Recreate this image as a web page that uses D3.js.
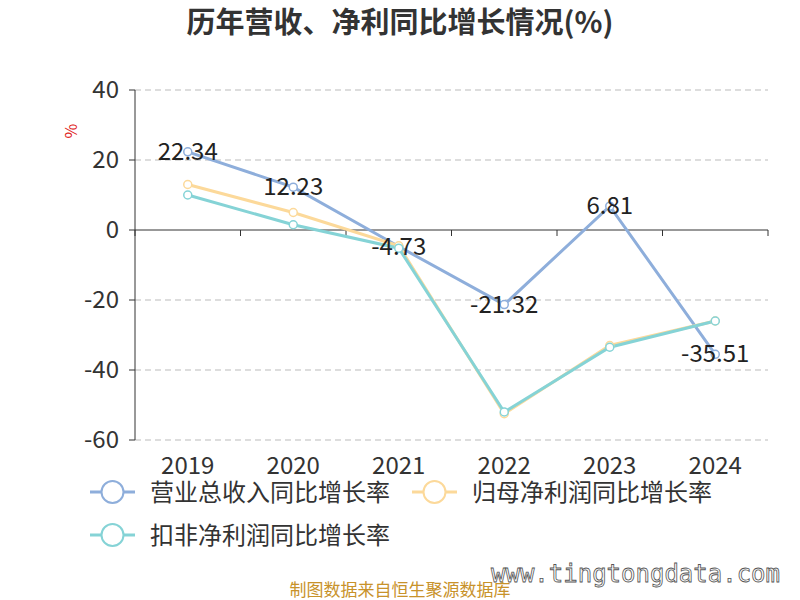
<!DOCTYPE html>
<html><head><meta charset="utf-8">
<script src="https://cdn.jsdelivr.net/npm/d3@7"></script>
<style>body{margin:0;background:#fff}</style></head>
<body><svg id="c" width="800" height="600"></svg>
<script>
const years = ["2019","2020","2021","2022","2023","2024"];
const revenue = [22.34, 12.23, -4.73, -21.32, 6.81, -35.51];
const netProfit = [13.0, 5.0, -4.5, -52.5, -33.0, -26.0];
const deductNet = [10.0, 1.5, -5.2, -52.0, -33.5, -26.0];
const yTicks = [40, 20, 0, -20, -40, -60];
const seriesNames = ["营业总收入同比增长率","归母净利润同比增长率","扣非净利润同比增长率"];
const colors = ["#8eaedb","#fcd99a","#85d3d6"];
const F = "'Noto Sans CJK SC','Noto Sans',sans-serif";
const svg = d3.select("#c");
const x = d3.scaleBand().domain(years).range([135, 768]);
const y = d3.scaleLinear().domain([-60, 40]).range([440, 90]);
svg.append("text").attr("x",400).attr("y",33).attr("text-anchor","middle").attr("font-family",F)
  .attr("font-size",29).attr("font-weight","bold").attr("fill","#333").text("历年营收、净利同比增长情况(%)");
svg.append("text").attr("transform","translate(77,131) rotate(-90)").attr("text-anchor","middle")
  .attr("font-family",F).attr("font-size",16).attr("fill","#e02020").text("%");
yTicks.forEach(t=>{
  if(t!==0) svg.append("line").attr("x1",135).attr("x2",768).attr("y1",y(t)).attr("y2",y(t))
    .attr("stroke","#bbb").attr("stroke-dasharray","6,4");
  svg.append("line").attr("x1",129).attr("x2",135).attr("y1",y(t)).attr("y2",y(t)).attr("stroke","#333");
  svg.append("text").attr("x",119).attr("y",y(t)+8).attr("text-anchor","end").attr("font-family",F)
    .attr("font-size",24).attr("fill","#333").text(t);
});
svg.append("line").attr("x1",135).attr("x2",135).attr("y1",90).attr("y2",440).attr("stroke","#333");
svg.append("line").attr("x1",135).attr("x2",768).attr("y1",y(0)).attr("y2",y(0)).attr("stroke","#333");
years.concat(["end"]).forEach((d,i)=>{
  const xx = 135 + i*x.bandwidth();
  svg.append("line").attr("x1",xx).attr("x2",xx).attr("y1",y(0)).attr("y2",y(0)+6).attr("stroke","#333");
});
years.forEach(d=>svg.append("text").attr("x",x(d)+x.bandwidth()/2).attr("y",474).attr("text-anchor","middle")
  .attr("font-family",F).attr("font-size",24).attr("fill","#333").text(d));
const cx = d=>x(d)+x.bandwidth()/2;
[revenue, netProfit, deductNet].forEach((s,k)=>{
  svg.append("path").datum(s).attr("fill","none").attr("stroke",colors[k]).attr("stroke-width",3)
    .attr("d",d3.line().x((v,i)=>cx(years[i])).y(v=>y(v)));
});
[revenue, netProfit, deductNet].forEach((s,k)=>{
  s.forEach((v,i)=>svg.append("circle").attr("cx",cx(years[i])).attr("cy",y(v)).attr("r",4)
    .attr("fill","#fff").attr("stroke",colors[k]).attr("stroke-width",1.5));
});
revenue.forEach((v,i)=>svg.append("text").attr("x",cx(years[i])).attr("y",y(v)+8).attr("text-anchor","middle")
  .attr("font-family",F).attr("font-size",24).attr("fill","#222").text(v.toFixed(2)));
const leg = [[90,492],[412,492],[90,535]];
seriesNames.forEach((n,k)=>{
  const [lx,ly]=leg[k];
  svg.append("line").attr("x1",lx).attr("x2",lx+45).attr("y1",ly).attr("y2",ly).attr("stroke",colors[k]).attr("stroke-width",3);
  svg.append("circle").attr("cx",lx+22.5).attr("cy",ly).attr("r",11).attr("fill","#fff").attr("stroke",colors[k]).attr("stroke-width",2);
  svg.append("text").attr("x",lx+60).attr("y",ly+9).attr("font-family",F).attr("font-size",24).attr("fill","#333").text(n);
});
svg.append("text").attr("x",780).attr("y",582).attr("text-anchor","end").attr("font-family","'DejaVu Sans Mono',monospace")
  .attr("font-size",24).attr("fill","none").attr("stroke","#555").attr("stroke-width",0.8).text("www.tingtongdata.com");
svg.append("text").attr("x",400).attr("y",596).attr("text-anchor","middle").attr("font-family",F)
  .attr("font-size",17).attr("fill","#c8922a").text("制图数据来自恒生聚源数据库");
</script></body></html>
